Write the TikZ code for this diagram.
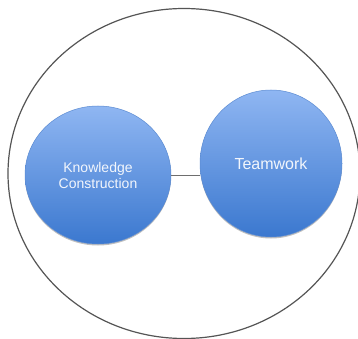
\documentclass[tikz,border=0pt]{standalone}
\usepackage{fontspec}
\setmainfont{Liberation Sans}
\usetikzlibrary{shapes.geometric,shadows}
\definecolor{bluetop}{HTML}{8FB6F2}
\definecolor{bluebot}{HTML}{3B78CF}
\definecolor{blueedge}{HTML}{5B8BD2}
\definecolor{ringgray}{HTML}{555555}
\definecolor{linkgray}{HTML}{6E6E6E}
\definecolor{labelwhite}{HTML}{F2F6FC}
\tikzset{
  bubble/.style={ellipse, inner sep=0pt, draw=blueedge, line width=0.5pt,
    top color=bluetop, bottom color=bluebot, text=labelwhite, align=center,
    drop shadow={shadow xshift=0pt, shadow yshift=-1.5pt, opacity=0.25, fill=black}},
  link/.style={draw=linkgray, line width=0.8pt}
}
\begin{document}
\begin{tikzpicture}[x=1pt,y=-1pt]
  \useasboundingbox (0,0) rectangle (358,339);
  \fill[white] (0,0) rectangle (358,339);
  % enclosing ring
  \draw[ringgray, line width=1.2pt] (184,173.5) ellipse [x radius=176, y radius=165];
  % the two concepts
  \node[bubble, minimum width=146pt, minimum height=138pt,
        font=\fontsize{14}{16}\selectfont] (kc) at (98,175) {Knowledge\\Construction};
  \node[bubble, minimum width=142pt, minimum height=147pt,
        font=\fontsize{16}{18}\selectfont] (tw) at (271,163.5) {Teamwork};
  % link between them
  \draw[link] (kc.east) -- (kc.east -| tw.west);
\end{tikzpicture}
\end{document}
